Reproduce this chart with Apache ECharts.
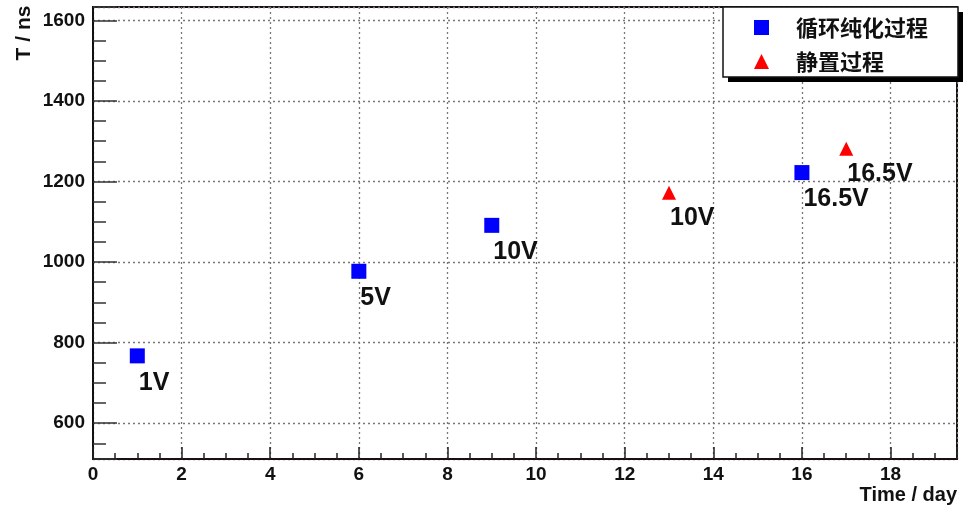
<!DOCTYPE html>
<html>
<head>
<meta charset="utf-8">
<script src="https://cdn.jsdelivr.net/npm/echarts@6/dist/echarts.min.js"></script>
<style>
html,body{margin:0;padding:0;background:#fff;}
#myChart{width:969px;height:507px;}
</style>
</head>
<body>
<div id="myChart"></div>
<script type="text/javascript">
//循环纯化过程
var purifyDays   = [1, 6, 9, 16];
var purifyT      = [767, 977, 1091, 1222];
var purifyLabels = ['1V', '5V', '10V', '16.5V'];

//静置过程
var restDays   = [13, 17];
var restT      = [1172, 1281];
var restLabels = ['10V', '16.5V'];

var seriesNames = ['循环纯化过程', '静置过程'];
var xTicks = [0, 2, 4, 6, 8, 10, 12, 14, 16, 18];
var yTicks = [600, 800, 1000, 1200, 1400, 1600];

function pairs(xs, ys, labels)
{
	var out = [];
	for (var i = 0; i < xs.length; i++)
	{
		out.push({value: [xs[i], ys[i]], name: labels[i]});
	}
	return out;
}

var labelFont = {fontFamily: 'Liberation Sans', fontWeight: 'bold', fontSize: 25, color: '#111'};
var tickFont  = {fontFamily: 'Liberation Sans', fontWeight: 'bold', fontSize: 19, color: '#111'};

var option = {
	animation: false,
	backgroundColor: '#fff',
	grid:
	{
		left: 93, right: 12, top: 7, bottom: 48,
		show: true, borderColor: '#1a1010', borderWidth: 2
	},
	xAxis:
	{
		type: 'value',
		min: 0,
		max: 19.5,
		interval: 2,
		axisLine: {show: true, lineStyle: {color: '#1a1010', width: 2}},
		axisTick: {show: true, inside: true, length: 12, lineStyle: {color: '#222', width: 1.5}},
		minorTick: {show: true, splitNumber: 4, length: 6, lineStyle: {color: '#222', width: 1.5}},
		axisLabel: Object.assign({margin: 6, showMaxLabel: false, formatter: function(v){ return xTicks.indexOf(v) >= 0 ? String(v) : ''; }}, tickFont),
		splitLine: {show: true, lineStyle: {color: '#777', type: [2, 3], width: 1.3}}
	},
	yAxis:
	{
		type: 'value',
		min: 511,
		max: 1633,
		splitNumber: 5,
		axisLine: {show: true, lineStyle: {color: '#111', width: 2}},
		axisTick: {show: true, inside: true, length: 24, lineStyle: {color: '#333', width: 1.5}},
		minorTick: {show: true, splitNumber: 4, length: 13, lineStyle: {color: '#333', width: 1.5}},
		axisLabel: Object.assign({margin: 8, showMinLabel: false, showMaxLabel: false, formatter: function(v){ return yTicks.indexOf(v) >= 0 ? String(v) : ''; }}, tickFont),
		splitLine: {show: true, lineStyle: {color: '#777', type: [2, 3], width: 1.3}}
	},
	legend:
	{
		orient: 'vertical',
		left: 749,
		top: 9,
		itemWidth: 15,
		itemHeight: 15,
		itemGap: 7,
		itemStyle: {opacity: 1},
		data: [
			{name: seriesNames[0], icon: 'rect'},
			{name: seriesNames[1], icon: 'triangle'}
		],
		textStyle: {fontFamily: 'Noto Sans CJK SC', fontWeight: 'bold', fontSize: 22, color: '#111', lineHeight: 27, padding: [0, 0, 0, 22]}
	},
	graphic:
	[
		{type: 'rect', z: 3, shape: {x: 728, y: 12, width: 235, height: 70}, style: {fill: '#000'}},
		{type: 'rect', z: 3, shape: {x: 723, y: 7, width: 235, height: 70}, style: {fill: '#fff', stroke: '#111', lineWidth: 1.5}},
		{type: 'text', z: 5, x: 957, y: 495, style: {text: 'Time / day', align: 'right', verticalAlign: 'middle', fill: '#111', font: 'bold 20px "Liberation Sans"'}},
		{type: 'text', z: 5, x: 24, y: 33, rotation: Math.PI / 2, style: {text: 'T / ns', align: 'center', verticalAlign: 'middle', fill: '#111', font: 'bold 21px "Liberation Sans"'}}
	],
	series:
	[
		{
			name: seriesNames[0],
			type: 'scatter',
			symbol: 'rect',
			symbolSize: 15,
			itemStyle: {color: '#0000ff', opacity: 1},
			label: Object.assign({show: true, position: [9, 22], align: 'left', verticalAlign: 'top', formatter: '{b}'}, labelFont),
			data: pairs(purifyDays, purifyT, purifyLabels)
		},
		{
			name: seriesNames[1],
			type: 'scatter',
			symbol: 'triangle',
			symbolSize: 14,
			itemStyle: {color: '#ff0000', opacity: 1},
			label: Object.assign({show: true, position: [8, 20], align: 'left', verticalAlign: 'top', formatter: '{b}'}, labelFont),
			data: pairs(restDays, restT, restLabels)
		}
	]
};
echarts.init(document.getElementById('myChart')).setOption(option);
</script>
</body>
</html>
